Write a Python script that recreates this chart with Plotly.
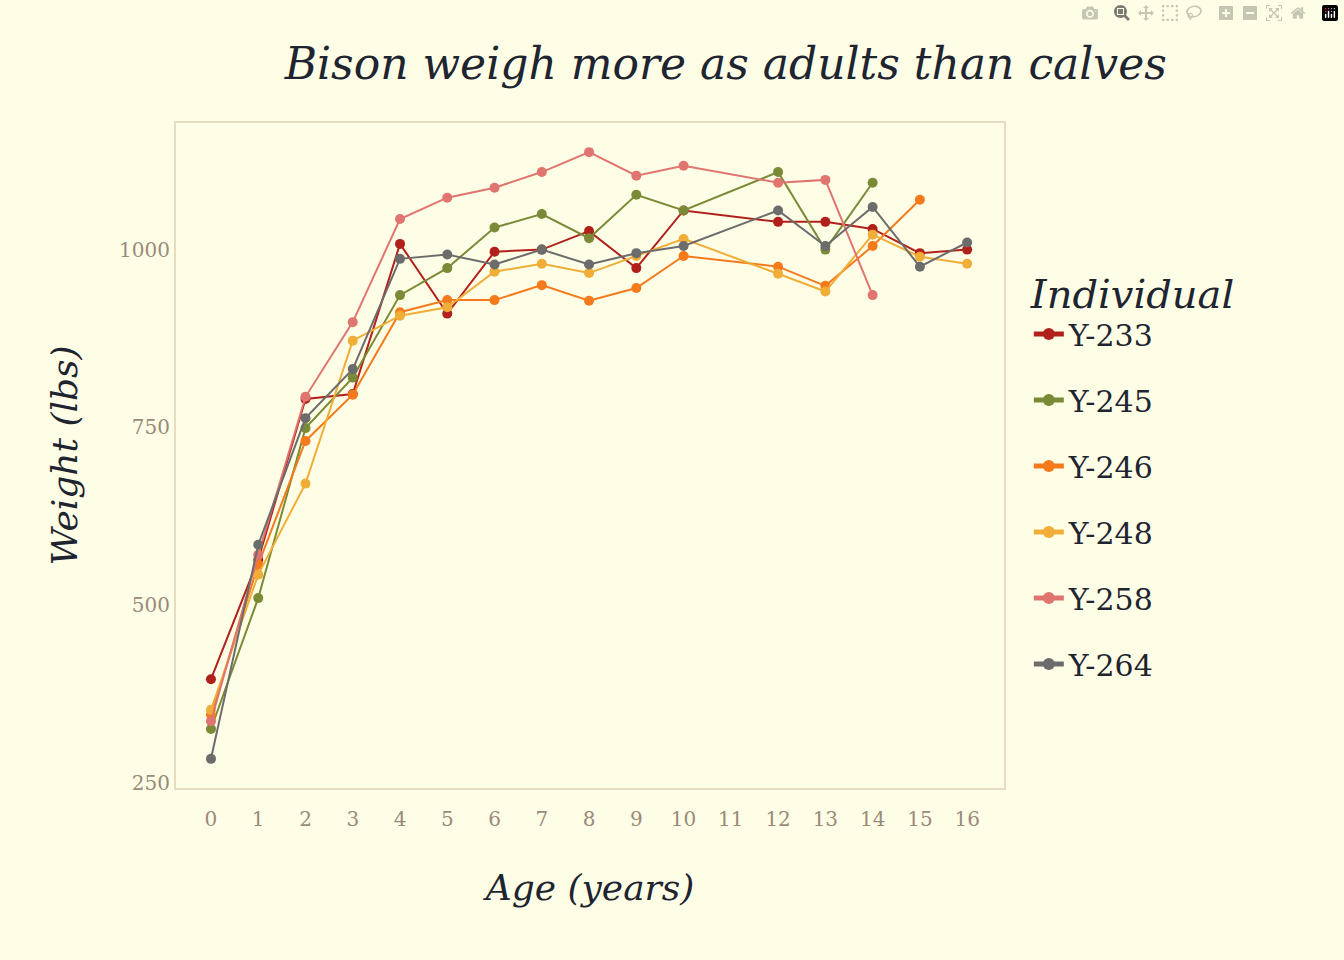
import plotly.graph_objects as go

ages = list(range(17))
names = ["Y-233", "Y-245", "Y-246", "Y-248", "Y-258", "Y-264"]
colors = ["#b2201c", "#7b8a36", "#f57a1c", "#f0ad38", "#e07570", "#6c6c6c"]
N = None
y233 = [396, 564, 790, 797, 1008, 910, 997, 1000, 1026, 974, 1055, N, 1039, 1039, 1029, 995, 1000]
y245 = [326, 510, 749, 820, 936, 974, 1031, 1050, 1016, 1077, 1055, N, 1109, 1000, 1094, N, N]
y246 = [346, 557, 731, 796, 912, 929, 929, 950, 928, 946, 991, N, 976, 949, 1005, 1070, N]
y248 = [353, 543, 671, 872, 907, 919, 969, 980, 967, 991, 1015, N, 966, 941, 1021, 990, 980]
y258 = [337, 571, 793, 898, 1043, 1073, 1087, 1109, 1137, 1104, 1118, N, 1094, 1098, 936, N, N]
y264 = [284, 585, 763, 832, 987, 993, 979, 1000, 979, 995, 1005, N, 1055, 1005, 1060, 976, 1010]
series = [y233, y245, y246, y248, y258, y264]

fig = go.Figure()
for n, c, ys in zip(names, colors, series):
    xs = [a for a, v in zip(ages, ys) if v is not None]
    vs = [v for v in ys if v is not None]
    fig.add_trace(go.Scatter(x=xs, y=vs, name=n, legendgroup=n, mode="lines+markers",
                             line=dict(color=c, width=2), marker=dict(color=c, size=10)))

font = "DejaVu Serif"
bg = "#fefee6"
fig.update_layout(
    width=1344, height=960, paper_bgcolor=bg, plot_bgcolor=bg,
    margin=dict(l=176, r=340, t=123, b=172),
    font=dict(family=font, color="#1e2430"),
    title=dict(text="<i>Bison weigh more as adults than calves</i>", x=0.54, y=0.95,
               xanchor="center", font=dict(size=44, family=font)),
    xaxis=dict(title=dict(text="<i>Age (years)</i>", font=dict(size=36), standoff=45),
               range=[-0.74, 16.78], tickmode="array", tickvals=ages,
               ticktext=[str(a) for a in ages], showgrid=False, zeroline=False,
               tickfont=dict(size=20, color="#9a8a7a"), showline=True, mirror=True,
               linecolor="#e6dcc0", linewidth=2, ticks="outside", ticklen=12,
               tickcolor=bg),
    yaxis=dict(title=dict(text="<i>Weight (lbs)</i>", font=dict(size=36), standoff=30),
               range=[243, 1178], tickvals=[250, 500, 750, 1000], showgrid=False,
               zeroline=False, tickfont=dict(size=20, color="#9a8a7a"),
               showline=True, mirror=True, linecolor="#e6dcc0", linewidth=2),
    legend=dict(title=dict(text="<i>Individual</i>  ", font=dict(size=40)),
                x=1.03, y=0.8, yanchor="top", font=dict(size=30),
                bgcolor="rgba(0,0,0,0)", tracegroupgap=24, itemsizing="constant"),
)
fig.write_html("out.html",
               post_script="document.body.style.margin='0';document.body.style.background='#fefee6';")
